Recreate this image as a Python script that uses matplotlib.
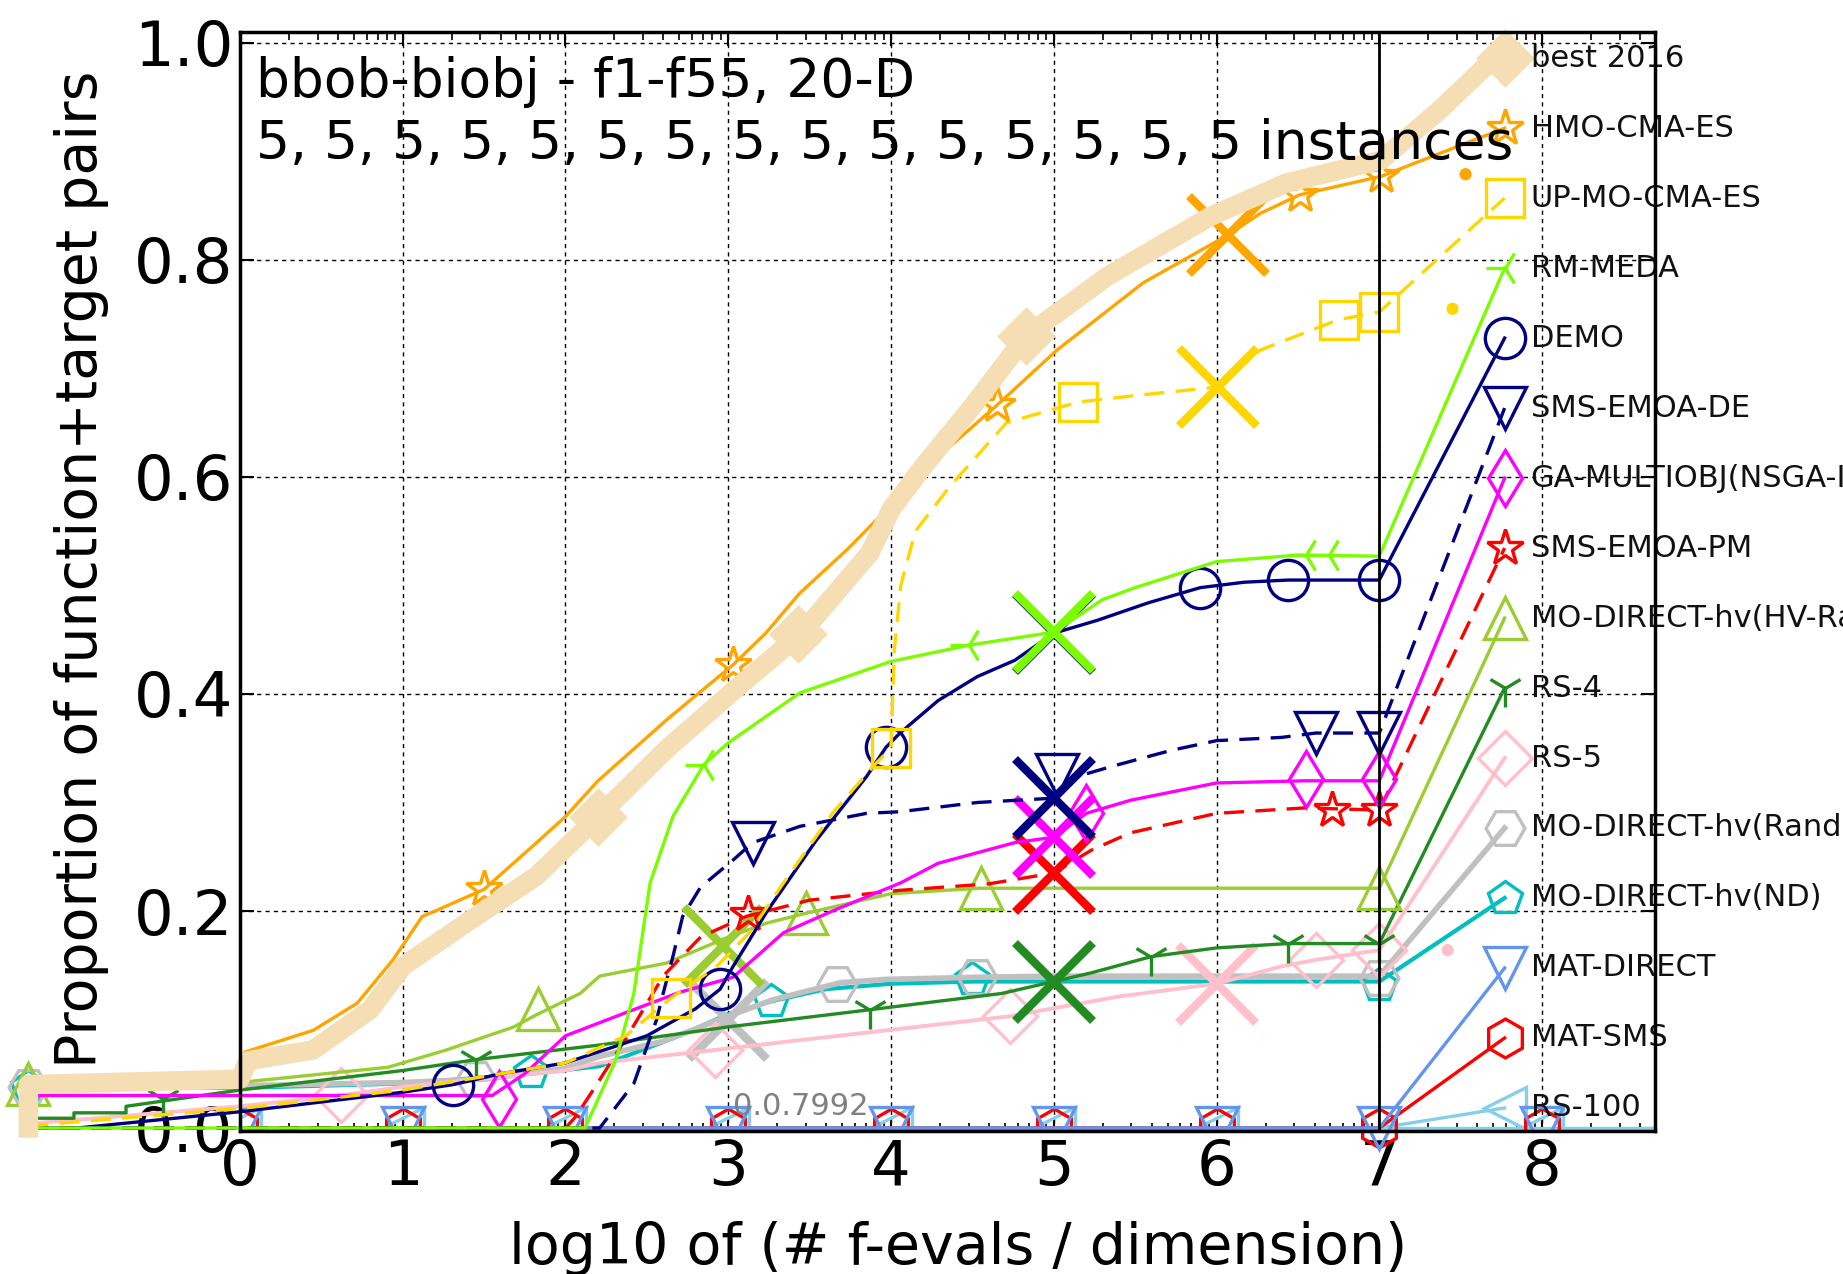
import numpy as np
import matplotlib
matplotlib.use("Agg")
import matplotlib.pyplot as plt

# === data (x = log10(#f-evals / dim), y = proportion) ===
best_x = [-1.3, -1.3, 0.0, 0.05, 0.45, 0.8, 1.0, 1.4, 1.82, 2.2, 2.62, 3.04, 3.45, 3.7,
          3.87, 4.0, 4.2, 4.5, 4.83, 5.33, 5.96, 6.43, 7.01, 7.37, 7.65]
best_y = [0.0, 0.04, 0.045, 0.062, 0.072, 0.109, 0.149, 0.19, 0.232, 0.287, 0.349, 0.404,
          0.456, 0.5, 0.53, 0.57, 0.61, 0.665, 0.73, 0.785, 0.84, 0.871, 0.892, 0.938, 0.978]
best_mx = [2.2, 3.43, 4.83]
best_my = [0.287, 0.455, 0.73]

hmo_x = [-1.3, 0.0, 0.03, 0.45, 0.72, 0.94, 1.12, 1.2, 1.5, 1.8, 2.0, 2.2, 2.62, 3.03,
         3.23, 3.44, 3.73, 4.0, 4.3, 4.65, 5.02, 5.55, 6.07, 6.27, 6.51, 7.01]
hmo_y = [0.043, 0.05, 0.07, 0.09, 0.115, 0.155, 0.195, 0.2, 0.22, 0.26, 0.287, 0.32, 0.376,
         0.427, 0.456, 0.493, 0.533, 0.574, 0.62, 0.666, 0.717, 0.779, 0.823, 0.843, 0.86, 0.877]
hmo_mx = [1.5, 3.03, 4.65, 6.51, 7.01]
hmo_my = [0.22, 0.427, 0.666, 0.86, 0.877]

upmo_x = [-1.3, 0.0, 1.0, 2.0, 2.37, 2.65, 2.93, 3.13, 3.34, 3.64, 3.9, 4.0, 4.02, 4.06,
          4.15, 4.36, 4.71, 5.15, 5.5, 6.01, 6.27, 6.75, 7.0]
upmo_y = [0.002, 0.018, 0.035, 0.06, 0.085, 0.12, 0.149, 0.18, 0.226, 0.29, 0.335, 0.35,
          0.44, 0.5, 0.55, 0.591, 0.65, 0.669, 0.675, 0.683, 0.717, 0.745, 0.752]
upmo_mx = [2.65, 4.0, 5.15, 6.75, 7.0]
upmo_my = [0.12, 0.35, 0.669, 0.745, 0.752]

rmmeda_x = [-1.3, 2.12, 2.31, 2.42, 2.52, 2.66, 2.85, 3.0, 3.44, 4.0, 4.48, 5.0, 5.3, 5.5,
            6.0, 6.5, 7.0]
rmmeda_y = [0.0, 0.0, 0.063, 0.124, 0.226, 0.287, 0.335, 0.355, 0.401, 0.43, 0.445, 0.457,
            0.487, 0.498, 0.522, 0.528, 0.527]
rmmeda_mx = [2.85, 4.48, 6.55, 6.69]
rmmeda_my = [0.335, 0.445, 0.528, 0.528]

demo_x = [-1.3, -1.0, 0.0, 1.0, 1.31, 1.6, 2.0, 2.5, 2.8, 2.95, 3.03, 3.24, 3.54, 3.85,
          3.97, 4.055, 4.29, 4.53, 4.76, 5.0, 5.27, 5.58, 5.9, 6.17, 6.44, 7.0]
demo_y = [0.0, 0.0, 0.015, 0.033, 0.04, 0.05, 0.06, 0.085, 0.11, 0.128, 0.149, 0.2, 0.265,
          0.324, 0.351, 0.364, 0.394, 0.416, 0.431, 0.456, 0.468, 0.484, 0.498, 0.503, 0.505, 0.505]
demo_mx = [1.31, 2.95, 3.97, 5.9, 6.44, 7.0]
demo_my = [0.04, 0.128, 0.351, 0.498, 0.505, 0.505]

smsde_x = [-1.3, 2.21, 2.42, 2.56, 2.6, 2.66, 2.72, 2.83, 3.03, 3.15, 3.44, 3.85, 4.055,
           4.53, 5.0, 5.1, 5.35, 5.72, 6.0, 6.4, 6.61, 7.0]
smsde_y = [0.0, 0.0, 0.041, 0.1, 0.124, 0.158, 0.195, 0.222, 0.247, 0.263, 0.278, 0.29,
           0.2915, 0.3, 0.304, 0.322, 0.333, 0.348, 0.357, 0.36, 0.364, 0.364]
smsde_mx = [3.15, 5.02, 6.61, 7.0]
smsde_my = [0.263, 0.325, 0.364, 0.364]

ga_x = [-1.3, 1.55, 1.75, 2.0, 2.4, 2.7, 3.03, 3.34, 3.64, 4.06, 4.29, 4.76, 5.0, 5.2,
        5.47, 6.0, 6.54, 7.0]
ga_y = [0.03, 0.03, 0.05, 0.085, 0.108, 0.125, 0.139, 0.18, 0.2, 0.226, 0.244, 0.263,
        0.268, 0.29, 0.302, 0.318, 0.32, 0.32]
ga_mx = [1.59, 5.2, 6.55, 7.0]
ga_my = [0.027, 0.29, 0.322, 0.322]

smspm_x = [-1.3, 2.0, 2.06, 2.17, 2.39, 2.6, 2.83, 3.11, 3.5, 4.05, 4.6, 5.0, 5.23, 5.47,
           6.0, 6.54, 7.0]
smspm_y = [0.0, 0.0, 0.01, 0.035, 0.087, 0.14, 0.176, 0.195, 0.21, 0.219, 0.225, 0.235,
           0.256, 0.272, 0.29, 0.295, 0.293]
smspm_mx = [3.12, 6.71, 7.0]
smspm_my = [0.197, 0.293, 0.293]

hv_x = [-1.3, 0.0, 0.91, 1.27, 1.68, 1.83, 2.09, 2.21, 2.62, 3.0, 3.24, 3.48, 4.0, 4.55, 7.0]
hv_y = [0.041, 0.042, 0.056, 0.072, 0.093, 0.105, 0.124, 0.14, 0.152, 0.176, 0.189, 0.198,
        0.216, 0.221, 0.221]
hv_mx = [-1.3, 1.83, 3.48, 4.55, 7.0]
hv_my = [0.041, 0.11, 0.198, 0.221, 0.221]

rs4_x = [-1.3, -1.02, -1.02, -0.7, -0.7, 0.0, 1.0, 1.45, 2.21, 2.99, 3.87, 4.68, 5.0,
         5.23, 5.6, 6.0, 6.44, 7.0]
rs4_y = [0.009, 0.009, 0.014, 0.014, 0.02, 0.035, 0.053, 0.063, 0.0765, 0.093, 0.109,
         0.124, 0.135, 0.143, 0.158, 0.166, 0.17, 0.17]
rs4_mx = [-0.47, 1.45, 3.87, 5.6, 6.44, 7.0]
rs4_my = [0.027, 0.063, 0.109, 0.158, 0.17, 0.17]

rs5_x = [-1.3, 0.0, 0.62, 1.0, 2.0, 2.21, 2.92, 3.62, 4.73, 5.39, 6.0, 6.4, 6.61, 7.0]
rs5_y = [0.004, 0.02, 0.03, 0.038, 0.053, 0.06, 0.072, 0.084, 0.103, 0.121, 0.133, 0.149,
         0.155, 0.164]
rs5_mx = [0.62, 2.92, 4.73, 6.61, 7.0]
rs5_my = [0.03, 0.072, 0.103, 0.155, 0.164]

ran_x = [-1.3, 0.0, 1.0, 1.5, 2.0, 2.21, 2.6, 3.0, 3.27, 3.69, 3.97, 4.54, 5.0, 7.0]
ran_y = [0.038, 0.039, 0.042, 0.045, 0.055, 0.066, 0.08, 0.103, 0.118, 0.134, 0.137,
         0.139, 0.14, 0.14]
ran_mx = [-1.3, 1.45, 3.67, 4.53, 7.0]
ran_my = [0.038, 0.045, 0.133, 0.139, 0.138]

nd_x = [-1.3, 0.0, 1.0, 1.79, 2.21, 2.7, 3.0, 3.27, 3.6, 4.0, 4.5, 7.0]
nd_y = [0.037, 0.037, 0.041, 0.05, 0.057, 0.085, 0.105, 0.117, 0.128, 0.133, 0.135, 0.135]
nd_mx = [-1.3, 1.79, 3.26, 4.5, 7.0]
nd_my = [0.038, 0.052, 0.117, 0.137, 0.132]

zero_x = [0.0, 7.0]
zero_y = [0.0, 0.0]
zero_mx = [0, 1, 2, 3, 4, 5, 6, 8]

# big "x" crosses
cross_pts = {
    "HMO-CMA-ES": (6.07, 0.823), "UP-MO-CMA-ES": (6.01, 0.683), "RM-MEDA": (5.0, 0.457),
    "DEMO": (5.0, 0.456), "SMS-EMOA-DE": (5.0, 0.304), "GA-MULTIOBJ(NSGA-II)": (5.0, 0.268),
    "SMS-EMOA-PM": (5.0, 0.235), "MO-DIRECT-hv(HV-Rank)": (2.97, 0.168), "RS-4": (5.0, 0.135),
    "RS-5": (6.0, 0.133), "MO-DIRECT-hv(Random)": (3.0, 0.1),
}

# small stray dots right of the budget line
dot_x = [7.53, 7.45, 7.42]
dot_y = [0.879, 0.755, 0.164]
dot_c = ["#FFA500", "#FFD700", "pink"]

LEG_X = 7.77
LABEL_X = 7.93
leg_top, leg_step = 0.986, 0.0645

DASH = (0, (6.0, 3.4))
algos = [
    ("best 2016", best_x, best_y, best_mx, best_my, "wheat", "-", 14, "D", 27, True),
    ("HMO-CMA-ES", hmo_x, hmo_y, hmo_mx, hmo_my, "#FFA500", "-", 2.4, "*", 27, False),
    ("UP-MO-CMA-ES", upmo_x, upmo_y, upmo_mx, upmo_my, "#FFD700", DASH, 2.4, "s", 27, False),
    ("RM-MEDA", rmmeda_x, rmmeda_y, rmmeda_mx, rmmeda_my, "lawngreen", "-", 2.4, "3", 27, False),
    ("DEMO", demo_x, demo_y, demo_mx, demo_my, "navy", "-", 2.4, "o", 29, False),
    ("SMS-EMOA-DE", smsde_x, smsde_y, smsde_mx, smsde_my, "navy", DASH, 2.4, "v", 30, False),
    ("GA-MULTIOBJ(NSGA-II)", ga_x, ga_y, ga_mx, ga_my, "magenta", "-", 2.4, "d", 29, False),
    ("SMS-EMOA-PM", smspm_x, smspm_y, smspm_mx, smspm_my, "red", DASH, 2.4, "*", 27, False),
    ("MO-DIRECT-hv(HV-Rank)", hv_x, hv_y, hv_mx, hv_my, "yellowgreen", "-", 2.4, "^", 30, False),
    ("RS-4", rs4_x, rs4_y, rs4_mx, rs4_my, "forestgreen", "-", 2.4, "1", 27, False),
    ("RS-5", rs5_x, rs5_y, rs5_mx, rs5_my, "pink", "-", 2.8, "D", 27, False),
    ("MO-DIRECT-hv(Random)", ran_x, ran_y, ran_mx, ran_my, "silver", "-", 4, "H", 28, False),
    ("MO-DIRECT-hv(ND)", nd_x, nd_y, nd_mx, nd_my, "c", "-", 3, "p", 25, False),
    ("MAT-DIRECT", zero_x, zero_y, zero_mx, [0.0] * 8, "cornflowerblue", "-", 2.4, "v", 30, False),
    ("MAT-SMS", zero_x, zero_y, zero_mx, [0.0] * 8, "red", "-", 2.4, "h", 28, False),
    ("RS-100", zero_x, zero_y, zero_mx, [0.0] * 8, "skyblue", "-", 2.4, "<", 30, False),
]

fig = plt.figure(figsize=(18.43, 12.74), dpi=100)
ax = fig.add_axes([0.1302, 0.1122, 0.7678, 0.8627])
ax.set_xlim(0, 8.694)
ax.set_ylim(-0.0028, 1.0101)

n = len(algos)
for i, (name, x, y, mx, my, c, ls, lw, mk, ms, filled) in reversed(list(enumerate(algos))):
    z = 3 + (n - i) * 0.1
    ly = leg_top - i * leg_step
    ax.plot(list(x) + [LEG_X], list(y) + [ly], color=c, ls=ls, lw=lw,
            solid_capstyle="projecting", clip_on=False, zorder=z)
    fc = c if filled else "none"
    if name in ("MAT-DIRECT", "MAT-SMS", "RS-100"):
        ax.plot(mx, my, ls="none", marker=mk, ms=ms, mec=c, mfc=fc, mew=2.4,
                clip_on=True, zorder=z)
        end = [7.0] if name != "RS-100" else []
        ax.plot(end + [LEG_X], [0.0] * len(end) + [ly], ls="none", marker=mk, ms=ms,
                mec=c, mfc=fc, mew=2.4, clip_on=False, zorder=z)
    else:
        ax.plot(list(mx) + [LEG_X], list(my) + [ly], ls="none", marker=mk, ms=ms,
                mec=c, mfc=fc, mew=2.4, clip_on=False, zorder=z)
    if name in cross_pts:
        cx, cy = cross_pts[name]
        ax.plot([cx], [cy], ls="none", marker="x", ms=56, mew=6, color=c,
                clip_on=False, zorder=z)
    ax.text(LABEL_X, ly, name, fontsize=22, ha="left", va="center", color="#111111",
            clip_on=False, zorder=10)

# RS-100 stays on the floor to the right edge
ax.plot([7.0, 8.694], [0.0, 0.0], color="skyblue", lw=2.4, clip_on=False, zorder=3)
ax.scatter(dot_x, dot_y, s=60, c=dot_c, zorder=4)

ax.axvline(7, color="k", lw=2, zorder=8)

ax.text(0.1, 0.95, "bbob-biobj - f1-f55, 20-D", fontsize=38.5, va="baseline", zorder=9)
ax.text(0.1, 0.893, ", ".join(["5"] * 15) + " instances", fontsize=38.5,
        va="baseline", zorder=9)
ax.text(3.03, 0.012, "0.0.7992", fontsize=22, color="grey", va="baseline", zorder=9)

ax.set_xticks(range(9))
ax.set_xticklabels([str(v) for v in range(9)])
minor = [d + np.log10(k) for d in range(9) for k in range(2, 10) if d + np.log10(k) < 8.69]
ax.set_xticks(minor, minor=True)
yt = [0.0, 0.2, 0.4, 0.6, 0.8, 1.0]
ax.set_yticks(yt)
ax.set_yticklabels(["%.1f" % v for v in yt])
ax.tick_params(which="both", direction="in", top=True, right=True)
ax.tick_params(which="major", length=10, width=1.5, labelsize=45)
ax.tick_params(axis="x", which="major", pad=5)
ax.tick_params(axis="y", which="major", pad=5)
ax.tick_params(which="minor", length=6, width=1.2)
ax.grid(True, which="major", color="k", ls=(0, (3, 3)), lw=1.0)
for sp in ax.spines.values():
    sp.set_linewidth(2.5)
    sp.set_zorder(12)

fig.text(0.0526, 0.553, "Proportion of function+target pairs", fontsize=41,
         rotation=90, rotation_mode="anchor", ha="center", va="baseline")
fig.text(0.52, 0.0082, "log10 of (# f-evals / dimension)", fontsize=41,
         ha="center", va="baseline")

fig.savefig("out.png", dpi=100)
